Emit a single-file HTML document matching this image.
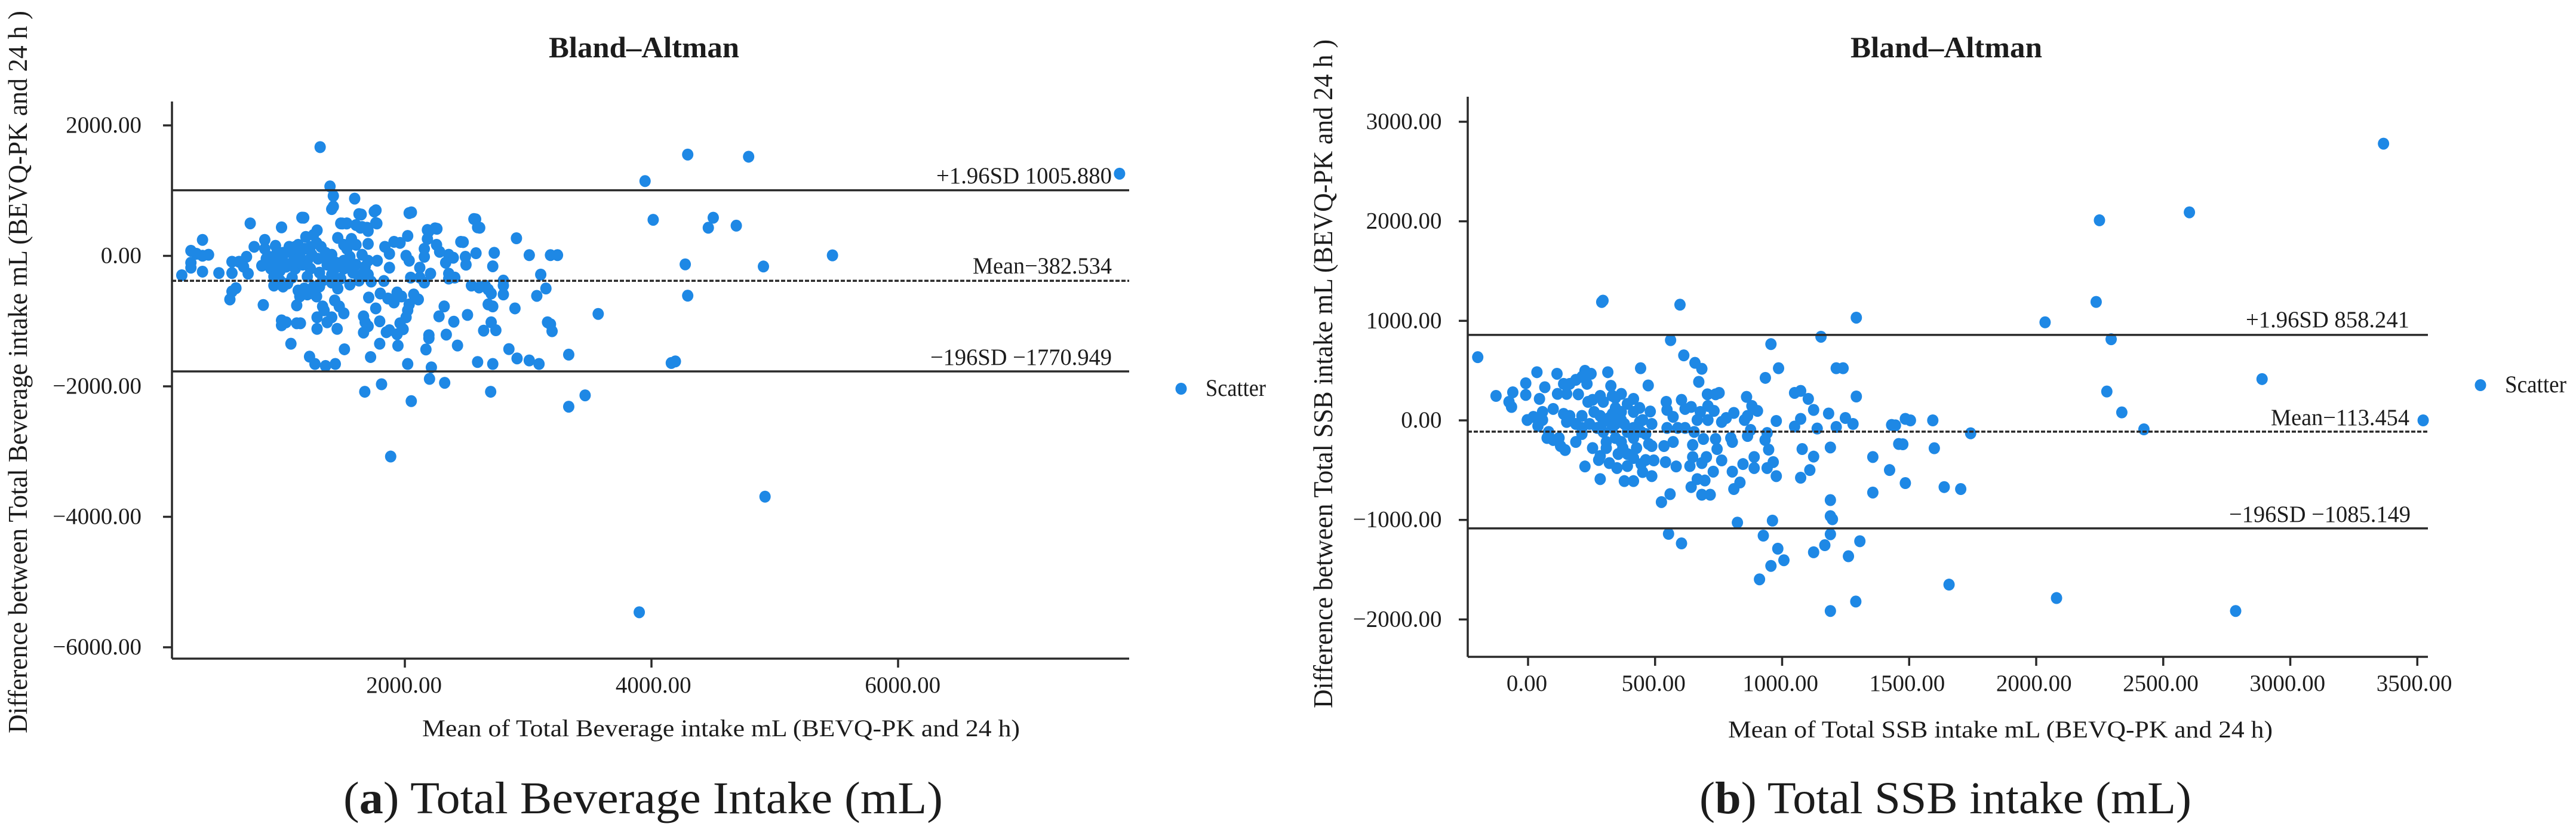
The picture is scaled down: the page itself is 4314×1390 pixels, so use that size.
<!DOCTYPE html>
<html lang="en">
<head>
<meta charset="utf-8">
<title>Bland–Altman plots</title>
<style>
html,body{margin:0;padding:0;background:#fff;width:4314px;height:1390px;overflow:hidden}
svg{display:block}
text{font-family:"Liberation Serif",serif;fill:#1c1c1c}
</style>
</head>
<body>
<svg id="figure" xmlns="http://www.w3.org/2000/svg" width="4314" height="1390" viewBox="0 0 4314 1390">
  <g id="panelA">
    <text x="919" y="96" font-size="50" font-weight="bold" textLength="319" lengthAdjust="spacingAndGlyphs">Bland–Altman</text>
    <text x="707" y="1233" font-size="40" textLength="1001" lengthAdjust="spacingAndGlyphs">Mean of Total Beverage intake mL (BEVQ-PK and 24 h)</text>
    <text transform="translate(45,1228) rotate(-90)" font-size="46" textLength="1210" lengthAdjust="spacingAndGlyphs">Difference between Total Beverage intake mL (BEVQ-PK and 24 h )</text>
    <text x="575" y="1362" font-size="76" fill="#000" textLength="1004" lengthAdjust="spacingAndGlyphs">(<tspan font-weight="bold">a</tspan>) Total Beverage Intake (mL)</text>
    <ellipse cx="1978" cy="651" rx="9.5" ry="10" fill="#1e88e5"/>
    <text x="2019" y="663" font-size="40" fill="#333" textLength="101" lengthAdjust="spacingAndGlyphs">Scatter</text>
    <text x="1568" y="307" font-size="39" textLength="294" lengthAdjust="spacingAndGlyphs">+1.96SD 1005.880</text>
    <text x="1629" y="458" font-size="39" textLength="233" lengthAdjust="spacingAndGlyphs">Mean−382.534</text>
    <text x="1558" y="611" font-size="39" textLength="304" lengthAdjust="spacingAndGlyphs">−196SD −1770.949</text>
  </g>
  <g id="panelB">
    <text x="3099" y="96" font-size="50" font-weight="bold" textLength="321" lengthAdjust="spacingAndGlyphs">Bland–Altman</text>
    <text x="2894" y="1235" font-size="40" textLength="912" lengthAdjust="spacingAndGlyphs">Mean of Total SSB intake mL (BEVQ-PK and 24 h)</text>
    <text transform="translate(2231,1186) rotate(-90)" font-size="46" textLength="1120" lengthAdjust="spacingAndGlyphs">Difference between Total SSB intake mL (BEVQ-PK and 24 h )</text>
    <text x="2846" y="1362" font-size="76" fill="#000" textLength="824" lengthAdjust="spacingAndGlyphs">(<tspan font-weight="bold">b</tspan>) Total SSB intake (mL)</text>
    <ellipse cx="4154" cy="645" rx="9.5" ry="10" fill="#1e88e5"/>
    <text x="4195" y="657" font-size="40" fill="#333" textLength="103" lengthAdjust="spacingAndGlyphs">Scatter</text>
    <text x="3761" y="548" font-size="39" textLength="274" lengthAdjust="spacingAndGlyphs">+1.96SD 858.241</text>
    <text x="3803" y="712" font-size="39" textLength="232" lengthAdjust="spacingAndGlyphs">Mean−113.454</text>
    <text x="3733" y="874" font-size="39" textLength="304" lengthAdjust="spacingAndGlyphs">−196SD −1085.149</text>
  </g>
</svg>
<script>
const aYTicks = [2000, 0, -2000, -4000, -6000];
const aXTicks = [2000, 4000, 6000];
const aLimits = [1005.88, -382.534, -1770.949];
const aMeans = [191,359,265,310,359,408,265,265,359,492,598,598,655,716,692,729,630,598,581,746,852,840,778,864,864,951,901,1000,1165,1197,1288,1062,1111,
2905,2725,2713,3009,3181,3238,3102,2799,2799,2799,3144,3070,2893,3568,3157,3181,3194,2700,2738,2639,2676,2713,2540,2602,2651,2700,2676,2508,2397,2319,2277,2336,2427,2195,2195,2171,2844,2910,3009,3088,3329,2590,2713,2023,2215,2200,2323,2696,2052,1811,1675,3329,3462,1885,1227,1271,1357,1436,1076,1510,1722,1796,1944,
1000,1000,1037,1123,1153,1288,1288,1451,1370,1407,1665,1678,1702,1665,1764,1796,1875,1850,1937,1986,1961,2010,2023,2035,1707,1801,1863,1912,1937,1973,2072,2109,1123,1148,1209,1271,1333,1345,1431,1468,1505,
1554,1628,1727,1830,2047,2121,2158,2208,2121,1875,2356,2405,2356,2023,1961,1912,2035,1752,1628,1407,1480,1530,1604,1653,1702,1764,2560,2590,2454,2577,2183,2245,2183,2158,2158,2257,2282,2010,2035,2356,2393,2331,2491,2496,1456,1567,1702,1838,1875,1776,1653,1678,1530,1407,
913,938,938,1012,1049,988,1012,1086,1135,1185,1111,1086,1209,1234,1296,1284,1259,1357,1370,1308,1209,1185,1259,1284,1407,1456,1505,1431,1579,1653,1554,1012,951,1172,1148,1037,1308,1135,1407,1333,1505,1604,1480,1246,1098,988,876,963,1049,1234,1320,1382,1444,1604,1505,1554,1702,1702,
1313,1393,1420,1420,1593,1766,1646,2053,1180,1493,1527,1773,1693,1640,2574,2607,2260,2193,2473,3948,4014,4294,4788,7796,4501,4461,4688,5468,4908,4274,4294,4194,4161,4921,3901];
const aDiffs = [-297,245,78,32,2,17,-105,-181,-242,-263,-263,-90,-90,-14,-166,-272,-495,-546,-668,498,-753,-151,139,245,108,154,-14,437,586,291,391,139,139,
270,47,-160,11,11,11,-287,-379,-455,-592,-500,-613,-805,-890,-1018,-1048,-1155,-1018,-1140,-1146,-744,-775,-455,-485,-455,-577,-516,-905,-1009,-775,-927,-1207,-1374,-1216,-1262,-1435,-1429,-1572,-1603,-1657,-1514,-1627,-1657,-1657,-1709,-1886,-1946,-2083,-2227,-1968,-2083,-2312,-2138,-3076,-1545,-1657,-1688,-1657,-1347,-1432,-1551,-1347,-1377,
-988,-1064,-1018,-1033,-1033,-942,-1119,-1119,-1018,-942,-927,-1018,-1079,-1176,-805,-1003,-1140,-1170,-1201,-1125,-1033,-942,-835,-744,-638,-577,-653,-714,-561,-622,-592,-668,-759,-622,-592,-592,-775,-835,-683,-775,-881,
-440,-379,-394,-385,-333,-333,-409,-272,-181,-181,-348,-333,-272,306,199,215,656,680,641,717,498,498,473,443,382,504,565,437,215,41,397,422,260,108,-14,169,62,2,-74,17,-29,-105,-14,-135,276,260,184,139,32,-74,17,-166,108,17,
-196,-318,-455,-470,-424,-227,-74,47,169,108,-196,-333,-74,-196,-44,199,321,47,-135,-257,-318,-500,-470,-622,-409,-500,-196,-196,-257,-287,-14,47,-74,-135,-14,-166,-470,-531,-287,-379,-74,-135,-348,17,-74,-379,-44,47,62,139,139,-44,-105,169,169,-166,-74,-287,
1667,1065,919,756,878,699,634,667,585,496,496,496,431,431,561,431,415,374,211,1146,553,1553,1520,1260,585,431,463,8,-163,-130,-610,-1618,-1642,-3691,-5463];

const bYTicks = [3000, 2000, 1000, 0, -1000, -2000];
const bXTicks = [0, 500, 1000, 1500, 2000, 2500, 3000, 3500];
const bLimits = [858.241, -113.454, -1085.149];
const bMeans = [-198,-126,-60,-75,-65,-9,-9,35,66,45,114,140,116,152,198,224,248,188,164,232,212,314,326,443,473,415,367,332,284,254,481,544,547,571,604,618,642,706,738,752,708,732,678,666,708,860,881,903,864,852,810,780,762,977,
561,613,657,684,672,598,290,295,956,986,934,1153,1292,1213,1240,1292,1049,1073,1103,1124,1183,1249,1279,1213,1138,1073,1049,1431,1485,1459,1357,1423,1485,1357,1190,1079,1124,1109,1073,1190,1190,1198,962,824,1190,926,553,604,983,1007,956,911,1124,1168,1306,1261,
224,284,379,415,487,451,583,541,495,637,684,702,648,648,690,738,744,762,729,804,846,890,890,941,965,977,834,810,696,666,642,684,717,559,525,798,804,876,864,941,933,947,654,618,589,547,571,535,487,487,451,463,
-3,21,39,57,99,81,99,128,146,122,75,152,140,188,188,212,242,260,236,296,344,391,367,332,296,332,344,379,415,439,445,415,367,308,254,284,278,320,350,391,415,445,391,373,427,463,475,212,164,57,212,296,344,391,439,344,284,308,355,415,272,320,367,
3367,2603,2249,2236,2035,2295,2889,2278,2337,2424,3523,1742,1599,1593,1505,1446,1475,1638,1703,1657,2080,2785,1190,1290];
const bDiffs = [635,246,282,186,135,373,256,484,333,216,468,367,266,266,262,498,468,407,367,367,437,484,347,524,351,216,266,246,246,206,89,186,105,35,206,115,135,262,262,276,145,95,85,4,4,236,145,95,45,4,75,24,-16,-6,
806,653,578,518,387,1162,1189,1203,766,524,427,840,1032,524,524,240,276,296,216,105,69,24,-36,-66,-82,15,-62,-46,15,-237,-368,-499,-630,-725,-272,-288,-364,-499,-576,-801,-962,-993,-1007,-1027,-1144,-1158,-1140,-1236,-1289,-1405,-1462,-1597,-1325,-1254,-1214,-1365,
-463,-590,-610,-610,-560,-519,-463,-419,-402,-459,-429,-368,-368,-247,-187,-187,-288,-402,-515,-515,-439,-368,-479,-479,-419,-560,-624,-690,-604,-590,-670,-747,-747,-741,-821,-177,-217,-96,-157,-127,-197,-294,-116,-76,-76,-76,-217,-258,-258,-36,4,-137,
4,35,-56,85,115,-116,-197,-258,-298,-177,-177,-16,65,-36,-217,-137,-36,85,186,186,226,166,85,65,-16,-76,-177,-36,85,-16,-116,-177,-217,-217,-278,-358,-398,-429,-479,-459,-378,-439,-338,-278,-278,-398,-237,45,45,4,-76,-116,-36,-116,125,125,45,-278,-338,-76,-76,25,4,
2780,2090,2010,1190,985,815,415,290,80,-90,0,-130,-280,0,0,-50,-240,-670,-690,-1650,-1785,-1915,-1915,-1820];

const NS = 'http://www.w3.org/2000/svg';
const DOT = '#1e88e5';
const INK = '#2a2a2a';

function line(parent, x1, y1, x2, y2, width, dash) {
  const el = document.createElementNS(NS, 'line');
  el.setAttribute('x1', x1);
  el.setAttribute('y1', y1);
  el.setAttribute('x2', x2);
  el.setAttribute('y2', y2);
  el.setAttribute('stroke', INK);
  el.setAttribute('stroke-width', width);
  if (dash) el.setAttribute('stroke-dasharray', dash);
  parent.appendChild(el);
  return el;
}
function label(parent, x, y, str, anchor) {
  const el = document.createElementNS(NS, 'text');
  el.setAttribute('x', x);
  el.setAttribute('y', y);
  el.setAttribute('font-size', '39');
  el.setAttribute('text-anchor', anchor);
  el.textContent = str;
  parent.appendChild(el);
  return el;
}
function fmt(v) {
  return (v < 0 ? '−' : '') + Math.abs(v).toFixed(2);
}
function drawPanel(parent, frame, means, diffs, xTicks, yTicks, limits) {
  const sx = v => frame.x0 + v * frame.kx;
  const sy = v => frame.y0 - v * frame.ky;
  const labelX = v => frame.labelX0 + v * frame.labelK;

  for (let i = 0; i < Math.min(means.length, diffs.length); i++) {
    const dot = document.createElementNS(NS, 'ellipse');
    dot.setAttribute('cx', sx(means[i]));
    dot.setAttribute('cy', sy(diffs[i]));
    dot.setAttribute('rx', 9.5);
    dot.setAttribute('ry', 10);
    dot.setAttribute('fill', DOT);
    
    
    parent.appendChild(dot);
  }

  limits.forEach((v, i) => {
    const ref = line(parent, frame.left, sy(v), frame.right, sy(v), 3.5, i === 1 ? '7 3' : null);
    
    
  });

  const yAxis = line(parent, frame.left, frame.top, frame.left, frame.bottom, 3.5);
  
  
  const xAxis = line(parent, frame.left, frame.bottom, frame.right, frame.bottom, 3.5);
  
  

  yTicks.forEach(v => {
    const tick = line(parent, frame.left - 15, sy(v), frame.left, sy(v), 3.5);
    
    
    const text = label(parent, frame.left - frame.labelGap, sy(v) + 12, fmt(v), 'end');
    
    
  });
  xTicks.forEach(v => {
    const tick = line(parent, sx(v), frame.bottom, sx(v), frame.bottom + 15, 3.5);
    
    
    const text = label(parent, labelX(v), frame.bottom + 57, fmt(v), 'middle');
    
    
  });
}

drawPanel(document.getElementById('panelA'),
  {x0: 265, kx: 0.2065, y0: 428.5, ky: 0.10925, left: 288, right: 1891, top: 170, bottom: 1103, labelX0: 259, labelK: 0.2088, labelGap: 51},
  aMeans, aDiffs, aXTicks, aYTicks, aLimits);
drawPanel(document.getElementById('panelB'),
  {x0: 2559, kx: 0.4255, y0: 704, ky: 0.1667, left: 2458, right: 4066, top: 162, bottom: 1100, labelX0: 2557, labelK: 0.4246, labelGap: 43.5},
  bMeans, bDiffs, bXTicks, bYTicks, bLimits);
</script>
</body>
</html>
